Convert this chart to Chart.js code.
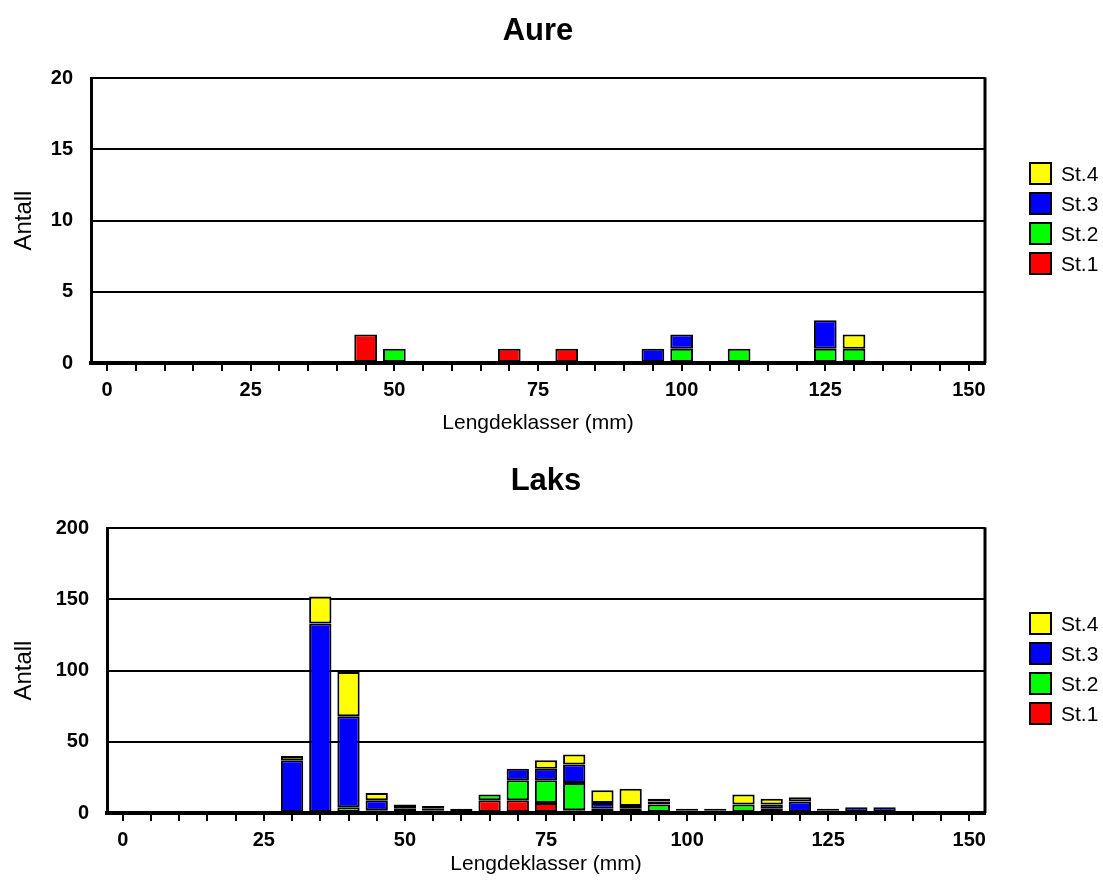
<!DOCTYPE html>
<html lang="no">
<head>
  <meta charset="UTF-8">
  <title>Aure og Laks - lengdefordeling</title>
  <script src="https://cdn.jsdelivr.net/npm/chart.js"></script>
  <style>
    html, body {
      margin: 0;
      padding: 0;
      background: #fff;
      overflow: hidden;
      font-family: "Liberation Sans", Arial, sans-serif;
    }
    .panel {
      position: relative;
      width: 1103px;
      height: 450px;
    }
    .legend {
      position: absolute;
      left: 1029px;
    }
    .legend div {
      position: relative;
      height: 30px;
      font-size: 21px;
      line-height: 23px;
      padding-left: 32px;
    }
    .legend span {
      position: absolute;
      left: 0;
      top: 0;
      width: 23px;
      height: 23px;
      box-sizing: border-box;
      border: 2px solid #000;
    }
  </style>
</head>
<body>
  <div class="panel">
    <canvas id="aureChart" width="1103" height="450"></canvas>
    <div class="legend" id="aureLegend" style="top:162px"></div>
  </div>
  <div class="panel">
    <canvas id="laksChart" width="1103" height="450"></canvas>
    <div class="legend" id="laksLegend" style="top:162px"></div>
  </div>

  <script>
    // lengdeklasser (mm)
    const lengder = [0, 5, 10, 15, 20, 25, 30, 35, 40, 45, 50, 55, 60, 65, 70, 75,
                     80, 85, 90, 95, 100, 105, 110, 115, 120, 125, 130, 135, 140, 145, 150];

    // Aure
    const aureSt1 = [0,0,0,0,0,0,0,0,0,2,0,0,0,0,1,0,1,0,0,0,0,0,0,0,0,0,0,0,0,0,0];
    const aureSt2 = [0,0,0,0,0,0,0,0,0,0,1,0,0,0,0,0,0,0,0,0,1,0,1,0,0,1,1,0,0,0,0];
    const aureSt3 = [0,0,0,0,0,0,0,0,0,0,0,0,0,0,0,0,0,0,0,1,1,0,0,0,0,2,0,0,0,0,0];
    const aureSt4 = [0,0,0,0,0,0,0,0,0,0,0,0,0,0,0,0,0,0,0,0,0,0,0,0,0,0,1,0,0,0,0];

    // Laks
    const laksSt1 = [0,0,0,0,0,0,0,0,0,2,1,2,3,9,9,7,2,0,0,0,0,1,0,0,0,0,0,0,0,0,0];
    const laksSt2 = [0,0,0,0,0,0,0,0,4,0,2,1,0,4,14,16,19,3,3,6,1,1,6,3,0,1,0,0,0,0,0];
    const laksSt3 = [0,0,0,0,0,0,37,133,64,7,2,2,0,0,8,8,13,4,2,2,1,1,0,3,8,1,4,4,0,0,0];
    const laksSt4 = [0,0,0,0,0,0,3,19,31,5,1,0,0,0,0,6,7,9,12,2,1,0,7,4,3,1,0,0,0,0,0];

    const stasjoner = ['St.1', 'St.2', 'St.3', 'St.4'];
    const farger = ['#ff0000', '#00ff00', '#0000ff', '#ffff00'];

    const FONT = '"Liberation Sans", Arial, sans-serif';

    function punkter(verdier) {
      return lengder.map((x, i) => ({ x: x, y: verdier[i] > 0 ? verdier[i] : null }));
    }

    function lagDatasett(serier) {
      return serier.map((s, i) => ({
        label: stasjoner[i],
        data: punkter(s),
        backgroundColor: farger[i],
        borderColor: '#000',
        borderWidth: 2,
        borderSkipped: false,
        inflateAmount: 0,
        barPercentage: 0.79,
        categoryPercentage: 1.0,
        stack: 'a'
      }));
    }

    // ramme rundt plottet (høyre kant)
    const rammePlugin = {
      id: 'ramme',
      afterDraw(chart) {
        const a = chart.chartArea;
        const ctx = chart.ctx;
        ctx.save();
        ctx.strokeStyle = '#000';
        ctx.lineWidth = 3;
        ctx.beginPath();
        ctx.moveTo(a.right, a.top - 1);
        ctx.lineTo(a.right, a.bottom);
        ctx.stroke();
        ctx.restore();
      }
    };

    function lagDiagram(id, tittel, serier, ymax, ystep, yBredde, xTittelBunn) {
      return new Chart(document.getElementById(id), {
        type: 'bar',
        data: { datasets: lagDatasett(serier) },
        options: {
          responsive: false,
          animation: false,
          layout: { padding: { left: 0, right: 118, top: 0, bottom: 0 } },
          plugins: {
            legend: { display: false },
            tooltip: { enabled: false },
            title: {
              display: true,
              fullSize: false,
              text: tittel,
              color: '#000',
              font: { family: FONT, size: 31, weight: 'bold' },
              padding: { top: 13, bottom: 28 }
            }
          },
          scales: {
            x: {
              type: 'linear',
              offset: false,
              min: -2.8,
              max: 152.8,
              afterBuildTicks: axis => {
                axis.ticks = lengder.map(v => ({ value: v }));
              },
              afterFit: axis => { axis.height = 87; },
              ticks: {
                autoSkip: false,
                maxRotation: 0,
                color: '#000',
                padding: 7,
                font: { family: FONT, size: 20, weight: 'bold' },
                callback: v => (v % 25 === 0 ? v : '')
              },
              grid: {
                offset: false,
                drawOnChartArea: false,
                drawTicks: true,
                tickLength: 8,
                color: '#000',
                lineWidth: 2
              },
              border: { color: '#000', width: 4 },
              title: {
                display: true,
                text: 'Lengdeklasser (mm)',
                color: '#000',
                font: { family: FONT, size: 21 },
                padding: { top: 0, bottom: xTittelBunn }
              }
            },
            y: {
              stacked: true,
              min: 0,
              max: ymax,
              afterFit: axis => { axis.width = yBredde; },
              ticks: {
                stepSize: ystep,
                color: '#000',
                padding: 18,
                font: { family: FONT, size: 20, weight: 'bold' }
              },
              grid: {
                drawTicks: false,
                color: '#000',
                lineWidth: 2
              },
              border: { color: '#000', width: 3 },
              title: {
                display: true,
                text: 'Antall',
                color: '#000',
                font: { family: FONT, size: 24 },
                padding: { top: 10, bottom: 0 }
              }
            }
          }
        },
        plugins: [rammePlugin]
      });
    }

    function lagLegende(id) {
      const el = document.getElementById(id);
      for (let i = stasjoner.length - 1; i >= 0; i--) {
        const rad = document.createElement('div');
        const boks = document.createElement('span');
        boks.style.background = farger[i];
        rad.appendChild(boks);
        rad.appendChild(document.createTextNode(stasjoner[i]));
        el.appendChild(rad);
      }
    }

    lagDiagram('aureChart', 'Aure', [aureSt1, aureSt2, aureSt3, aureSt4], 20, 5, 91, 14);
    lagDiagram('laksChart', 'Laks', [laksSt1, laksSt2, laksSt3, laksSt4], 200, 50, 107, 23);
    lagLegende('aureLegend');
    lagLegende('laksLegend');
  </script>
</body>
</html>
